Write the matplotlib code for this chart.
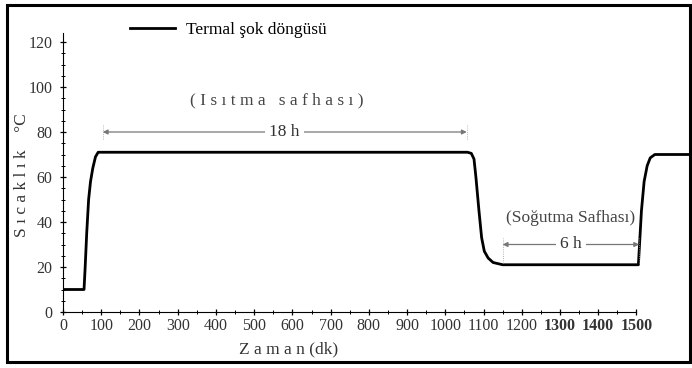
import matplotlib
matplotlib.use("Agg")
import matplotlib.pyplot as plt
from matplotlib.patches import Rectangle
from matplotlib.ticker import MultipleLocator, FixedLocator

plt.rcParams["font.family"] = ["Liberation Serif", "DejaVu Serif"]

# thermal shock cycle (time in min, temperature in degC)
zaman = [0, 55, 58, 62, 67, 72, 78, 85, 92, 100,
         1058, 1068, 1075, 1080, 1088, 1095, 1102, 1112, 1125, 1150,
         1505, 1508, 1513, 1520, 1528, 1536, 1548, 1640]
sicaklik = [10, 10, 20, 35, 50, 58, 64, 69, 71, 71,
            71, 70.5, 68, 60, 45, 33, 27, 24, 22, 21,
            21, 30, 45, 58, 65, 68.5, 70, 70]

x_ticks = list(range(0, 1501, 100))
x_minor = list(range(50, 1500, 100))
y_ticks = list(range(0, 121, 20))

isitma = (104, 1056)    # 18 h span
sogutma = (1150, 1507)  # 6 h span

fig = plt.figure(figsize=(6.92, 3.68), dpi=100)
ax = fig.add_axes([63 / 692, 56 / 368, 627 / 692, 279 / 368])

ax.plot(zaman, sicaklik, color="black", lw=2.0, label="Termal şok döngüsü",
        solid_joinstyle="round")

ax.set_xlim(0, 1640)
ax.set_ylim(0, 124)
for s in ("top", "right"):
    ax.spines[s].set_visible(False)
ax.spines["bottom"].set_bounds(0, 1500)
ax.set_xticks(x_ticks)
ax.set_yticks(y_ticks)
ax.xaxis.set_minor_locator(FixedLocator(x_minor))
ax.yaxis.set_minor_locator(MultipleLocator(5))
ax.tick_params(which="major", direction="inout", length=5, width=0.9,
               labelsize=11.5, labelcolor="#333")
ax.tick_params(which="minor", direction="inout", length=3, width=0.7)
ax.tick_params(axis="x", pad=2)
ax.tick_params(axis="y", pad=5)
for lab in ax.get_xticklabels()[-3:]:
    lab.set_fontweight("bold")

ax.set_xlabel("Z a m a n (dk)", fontsize=12.5, color="#333")
ax.xaxis.set_label_coords(0.36, -0.105)
ax.set_ylabel("S ı c a k l ı k    °C", fontsize=12.5, color="#333")
ax.yaxis.set_label_coords(-0.052, 0.49)

# heating phase
ax.annotate("", xy=(isitma[0], 80), xytext=(isitma[1], 80),
            arrowprops=dict(arrowstyle="<|-|>", color="#777", lw=0.9,
                            mutation_scale=7, shrinkA=0, shrinkB=0))
ax.text(sum(isitma) / 2, 80, "18 h", ha="center", va="center", fontsize=12.5,
        color="#333", bbox=dict(fc="white", ec="none", pad=3))
ax.text(559, 94, "( I s ı t m a   s a f h a s ı )", ha="center", va="center",
        fontsize=12.5, color="#444")
for xv in isitma:
    ax.plot([xv, xv], [77, 83], color="#999", lw=0.6, ls=":")

# cooling phase
ax.annotate("", xy=(sogutma[0], 30), xytext=(sogutma[1], 30),
            arrowprops=dict(arrowstyle="<|-|>", color="#777", lw=0.9,
                            mutation_scale=7, shrinkA=0, shrinkB=0))
ax.text(sum(sogutma) / 2, 30, "6 h", ha="center", va="center", fontsize=12.5,
        color="#333", bbox=dict(fc="white", ec="none", pad=3))
ax.text(1328, 42, "(Soğutma Safhası)", ha="center", va="center",
        fontsize=12.5, color="#444")
for xv in sogutma:
    ax.plot([xv, xv], [22, 33], color="#999", lw=0.6, ls=":")

ax.legend(loc="upper left", bbox_to_anchor=(130 / 692, 1 - 22 / 368),
          bbox_transform=fig.transFigure, frameon=False, fontsize=12.5,
          handlelength=2.6, handletextpad=0.6, borderpad=0, borderaxespad=0)

fig.patches.append(Rectangle((7 / 692, 6 / 368), 683 / 692, 357 / 368,
                             transform=fig.transFigure, fill=False,
                             ec="black", lw=2.2))

fig.savefig("out.png", dpi=100)
